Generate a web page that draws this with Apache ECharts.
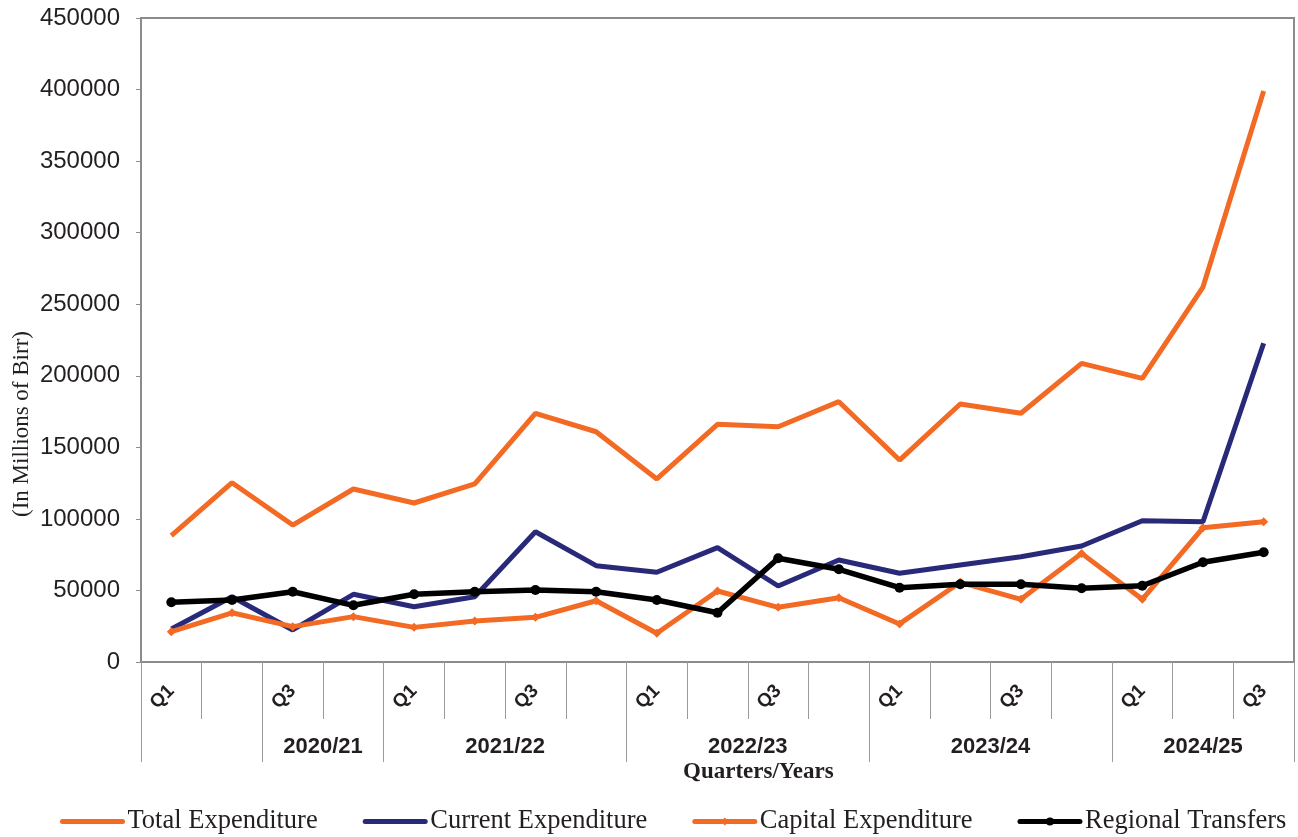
<!DOCTYPE html>
<html>
<head>
<meta charset="utf-8">
<script src="https://cdn.jsdelivr.net/npm/echarts@6/dist/echarts.min.js"></script>
<style>
  html, body { margin: 0; padding: 0; background: #ffffff; }
  #chart { width: 1298px; height: 837px; }
</style>
</head>
<body>
<div id="chart"></div>
<script>
// ---- data ----
const quarters = ['Q1','Q2','Q3','Q4','Q1','Q2','Q3','Q4','Q1','Q2','Q3','Q4','Q1','Q2','Q3','Q4','Q1','Q2','Q3'];
const yearLabels = ['', '2020/21', '2021/22', '2022/23', '2023/24', '2024/25'];
const yearSpans = [2, 2, 4, 4, 4, 3];

const totalExpenditure   = [88300, 125300, 95700, 120900, 111100, 124400, 173800, 160900, 127900, 166100, 164400, 181900, 141100, 180300, 173800, 208700, 198200, 262000, 399000];
const currentExpenditure = [23100, 45600, 22400, 47300, 38600, 45600, 91000, 67300, 62700, 79900, 53100, 71300, 62000, 67800, 73600, 81100, 98700, 98000, 222700];
const capitalExpenditure = [21200, 34400, 24700, 31700, 24200, 28600, 31200, 42800, 20100, 49600, 38200, 44900, 26600, 55700, 43800, 75900, 43800, 93800, 98000];
const regionalTransfers  = [41700, 43300, 49100, 39600, 47300, 49100, 50300, 49100, 43300, 34400, 72500, 64800, 51900, 54300, 54300, 51500, 53300, 69700, 76700];

const yTicks = { min: 0, max: 450000, interval: 50000 };

// ---- derived group boundaries / centres (in quarter units) ----
const groupBounds = [0];
const groupCenters = [];
const centerLabel = {};
yearSpans.forEach((s, i) => {
  const start = groupBounds[groupBounds.length - 1];
  groupBounds.push(start + s);
  if (yearLabels[i]) {
    const c = start + s / 2;
    groupCenters.push(c);
    centerLabel[c] = yearLabels[i];
  }
});

const ORANGE = '#f26a24';
const NAVY = '#29297a';
const BLACK = '#000000';
const AXIS_GREY = '#8c8c8c';
const TEXT = '#231f20';

const chart = echarts.init(document.getElementById('chart'));
chart.setOption({
  animation: false,
  backgroundColor: '#ffffff',
  grid: {
    left: 141, right: 4, top: 18, bottom: 175,
    show: true, borderColor: AXIS_GREY, borderWidth: 2, backgroundColor: 'transparent'
  },
  legend: {
    left: 60, top: 808, padding: 0, width: 1236,
    itemWidth: 60, itemHeight: 10, itemGap: 45,
    lineStyle: { width: 5, cap: 'round' },
    textStyle: { fontFamily: 'Liberation Serif', fontSize: 26.5, color: TEXT },
    data: [
      { name: 'Total Expenditure', itemStyle: { opacity: 0 } },
      { name: 'Current Expenditure', itemStyle: { opacity: 0 } },
      { name: 'Capital Expenditure' },
      { name: 'Regional Transfers' }
    ]
  },
  graphic: [
    {
      type: 'text', left: 683, top: 761,
      style: { text: 'Quarters/Years', fontFamily: 'Liberation Serif', fontWeight: 'bold', fontSize: 23, fill: TEXT }
    },
    {
      type: 'text', x: 10, y: 424, rotation: Math.PI / 2,
      style: { text: '(In Millions of Birr)', fontFamily: 'Liberation Serif', fontSize: 23, fill: TEXT, align: 'center', verticalAlign: 'top' }
    }
  ],
  xAxis: [
    {
      type: 'category',
      data: quarters,
      boundaryGap: true,
      position: 'bottom',
      axisLine: { show: true, lineStyle: { color: AXIS_GREY, width: 2 } },
      axisTick: { show: true, interval: 0, length: 57, lineStyle: { color: '#9a9a9a', width: 1 } },
      axisLabel: {
        interval: 1, rotate: 45, margin: 26,
        fontFamily: 'Liberation Sans', fontWeight: 'bold', fontSize: 19, color: TEXT
      },
      splitLine: { show: false }
    },
    {
      type: 'value',
      min: 0, max: quarters.length,
      position: 'bottom',
      axisLine: { show: false },
      axisTick: { show: true, customValues: groupBounds, length: 100, lineStyle: { color: '#9a9a9a', width: 1 } },
      axisLabel: {
        show: true, customValues: groupCenters, margin: 74,
        formatter: v => centerLabel[v] || '',
        fontFamily: 'Liberation Sans', fontWeight: 'bold', fontSize: 22, color: TEXT
      },
      splitLine: { show: false }
    }
  ],
  yAxis: {
    type: 'value',
    min: yTicks.min, max: yTicks.max, interval: yTicks.interval,
    axisLine: { show: true, lineStyle: { color: AXIS_GREY, width: 2 } },
    axisTick: { show: true, length: 5, lineStyle: { color: AXIS_GREY, width: 1 } },
    axisLabel: { margin: 21, fontFamily: 'Liberation Sans', fontSize: 24, color: TEXT, formatter: v => String(v) },
    splitLine: { show: false }
  },
  series: [
    {
      name: 'Total Expenditure', type: 'line', xAxisIndex: 0, data: totalExpenditure,
      symbol: 'none', lineStyle: { color: ORANGE, width: 5 }, itemStyle: { color: ORANGE }
    },
    {
      name: 'Current Expenditure', type: 'line', xAxisIndex: 0, data: currentExpenditure,
      symbol: 'none', lineStyle: { color: NAVY, width: 5 }, itemStyle: { color: NAVY }
    },
    {
      name: 'Capital Expenditure', type: 'line', xAxisIndex: 0, data: capitalExpenditure,
      symbol: 'diamond', symbolSize: 9, showSymbol: true,
      lineStyle: { color: ORANGE, width: 5 }, itemStyle: { color: ORANGE }
    },
    {
      name: 'Regional Transfers', type: 'line', xAxisIndex: 0, data: regionalTransfers,
      symbol: 'circle', symbolSize: 10, showSymbol: true,
      lineStyle: { color: BLACK, width: 5.5 }, itemStyle: { color: BLACK }
    }
  ]
});
</script>
</body>
</html>
